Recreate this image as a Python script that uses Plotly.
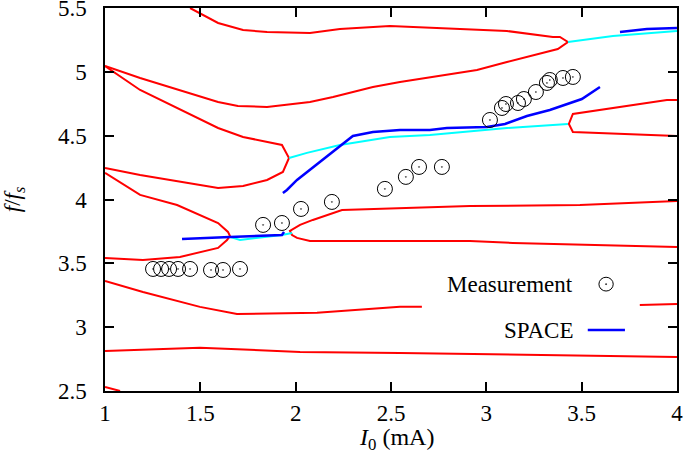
import plotly.graph_objects as go

# ---- data ----
# red mode curves
red_a_x = [1.0, 1.184, 1.593, 1.697, 1.850, 2.075, 2.196, 2.405, 2.547, 2.951, 3.108, 3.375, 3.428, 3.386, 3.349, 3.108, 2.494, 2.232, 2.075, 1.850, 1.724, 1.593, 1.446]
red_a_y = [5.046, 4.952, 4.764, 4.733, 4.725, 4.764, 4.803, 4.881, 4.921, 5.014, 5.077, 5.179, 5.234, 5.273, 5.273, 5.320, 5.359, 5.336, 5.304, 5.312, 5.328, 5.383, 5.5]

red_b_x = [1.0, 1.184, 1.593, 1.724, 1.928, 1.965, 1.933, 1.850, 1.724, 1.593, 1.184, 1.0]
red_b_y = [5.046, 4.858, 4.560, 4.490, 4.427, 4.325, 4.216, 4.153, 4.106, 4.090, 4.192, 4.247]

red_c_x = [1.0, 1.184, 1.378, 1.593, 1.645, 1.655, 1.640, 1.593, 1.393, 1.199, 1.0]
red_c_y = [4.208, 4.036, 3.957, 3.816, 3.746, 3.715, 3.683, 3.621, 3.550, 3.527, 3.542]

red_d_x = [4.0, 3.491, 2.914, 2.243, 2.090, 2.023, 1.970, 1.981, 2.007, 2.075, 2.914, 3.139, 4.0]
red_d_y = [3.989, 3.957, 3.949, 3.918, 3.840, 3.801, 3.754, 3.722, 3.699, 3.675, 3.675, 3.660, 3.628]

red_e_x = [4.0, 3.947, 3.454, 3.433, 3.454, 3.947, 4.0]
red_e_y = [4.780, 4.780, 4.670, 4.592, 4.529, 4.505, 4.498]

red_f_x = [1.0, 1.199, 1.498, 1.692, 2.112, 2.547, 2.662]
red_f_y = [3.362, 3.276, 3.159, 3.104, 3.112, 3.159, 3.159]

red_f2_x = [3.805, 4.0]
red_f2_y = [3.174, 3.182]

red_g_x = [1.0, 1.498, 2.023, 2.547, 4.0]
red_g_y = [2.814, 2.838, 2.806, 2.798, 2.767]

red_h_x = [1.0, 1.079]
red_h_y = [2.532, 2.5]

# cyan connecting curves
cyan_1_x = [1.655, 1.708, 1.928, 1.981]
cyan_1_y = [3.707, 3.683, 3.722, 3.738]
cyan_2_x = [1.965, 2.059, 2.232, 2.494, 2.704, 3.108, 3.428]
cyan_2_y = [4.325, 4.365, 4.427, 4.490, 4.505, 4.560, 4.592]
cyan_3_x = [3.428, 3.664, 4.0]
cyan_3_y = [5.234, 5.281, 5.320]

# SPACE simulation (blue)
space_1_x = [1.404, 1.509, 1.655, 1.928, 1.939]
space_1_y = [3.691, 3.699, 3.707, 3.722, 3.746]
space_2_x = [1.933, 1.954, 2.007, 2.300, 2.405, 2.547, 2.704, 2.793, 3.003, 3.098, 3.213, 3.333, 3.501, 3.596]
space_2_y = [4.051, 4.075, 4.153, 4.498, 4.529, 4.545, 4.545, 4.560, 4.568, 4.592, 4.654, 4.701, 4.787, 4.881]
space_3_x = [3.701, 3.842, 4.0]
space_3_y = [5.312, 5.336, 5.343]

# measurements
meas_x = [1.252, 1.294, 1.336, 1.383, 1.446, 1.556, 1.619, 1.708,
          1.829, 1.928, 2.028, 2.190, 2.468, 2.578, 2.647, 2.767,
          3.019, 3.082, 3.103, 3.166, 3.197, 3.260, 3.318, 3.333, 3.402, 3.454]
meas_y = [3.456, 3.456, 3.456, 3.456, 3.456, 3.448, 3.448, 3.456,
          3.801, 3.816, 3.926, 3.981, 4.083, 4.177, 4.255, 4.255,
          4.623, 4.717, 4.748, 4.756, 4.787, 4.842, 4.913, 4.936, 4.952, 4.960]

x_ticks = [1, 1.5, 2, 2.5, 3, 3.5, 4]
x_tick_text = ["1", "1.5", "2", "2.5", "3", "3.5", "4"]
y_ticks = [2.5, 3, 3.5, 4, 4.5, 5, 5.5]
y_tick_text = ["2.5", "3", "3.5", "4", "4.5", "5", "5.5"]

FONT = "Liberation Serif"
FS = 23

fig = go.Figure()

for xs, ys in [(red_a_x, red_a_y), (red_b_x, red_b_y), (red_c_x, red_c_y), (red_d_x, red_d_y),
               (red_e_x, red_e_y), (red_f_x, red_f_y), (red_f2_x, red_f2_y), (red_g_x, red_g_y),
               (red_h_x, red_h_y)]:
    fig.add_trace(go.Scatter(x=xs, y=ys, mode="lines", line=dict(color="#ff0000", width=2),
                             showlegend=False, hoverinfo="skip"))

for xs, ys in [(cyan_1_x, cyan_1_y), (cyan_2_x, cyan_2_y), (cyan_3_x, cyan_3_y)]:
    fig.add_trace(go.Scatter(x=xs, y=ys, mode="lines", line=dict(color="#00ffff", width=2),
                             showlegend=False, hoverinfo="skip"))

for xs, ys in [(space_1_x, space_1_y), (space_2_x, space_2_y), (space_3_x, space_3_y)]:
    fig.add_trace(go.Scatter(x=xs, y=ys, mode="lines", line=dict(color="#0000ff", width=2.5),
                             showlegend=False, name="SPACE"))

fig.add_trace(go.Scatter(x=meas_x, y=meas_y, mode="markers", name="Measurement",
                         marker=dict(symbol="circle-open-dot", size=15, color="black",
                                     line=dict(color="black", width=1)),
                         showlegend=False))

# manual gnuplot-style key
fig.add_annotation(x=0.822, y=0.277, xref="paper", yref="paper", text="Measurement",
                   showarrow=False, xanchor="right", yanchor="middle",
                   font=dict(family=FONT, size=FS, color="black"))
fig.add_annotation(x=0.822, y=0.157, xref="paper", yref="paper", text="SPACE",
                   showarrow=False, xanchor="right", yanchor="middle",
                   font=dict(family=FONT, size=FS, color="black"))
fig.add_shape(type="line", xref="paper", yref="paper", x0=0.844, x1=0.909, y0=0.159, y1=0.159,
              line=dict(color="#0000ff", width=2.5))
fig.add_shape(type="circle", xref="paper", yref="paper", x0=0.8635, x1=0.8885, y0=0.261, y1=0.297,
              line=dict(color="black", width=1))
fig.add_shape(type="circle", xref="paper", yref="paper", x0=0.8750, x1=0.8770, y0=0.2775, y1=0.2805,
              line=dict(color="black", width=0.5), fillcolor="black")

# x-axis title as annotation (slightly right of centre, as in the reference)
fig.add_annotation(x=0.51, y=-0.082, xref="paper", yref="paper",
                   text="<i>I</i><sub>0</sub> (mA)", showarrow=False,
                   xanchor="center", yanchor="top",
                   font=dict(family=FONT, size=FS + 1, color="black"))

axis_common = dict(showgrid=False, zeroline=False, showline=True, linecolor="black", linewidth=1.5,
                   mirror="ticks", ticks="inside", ticklen=9, tickwidth=1.5, tickcolor="black",
                   automargin=False, ticklabeloverflow="allow",
                   tickfont=dict(family=FONT, size=FS, color="black"))

fig.update_xaxes(range=[0.9999, 4.0001], tickvals=x_ticks, ticktext=x_tick_text,
                 ticklabelstandoff=1, **axis_common)
fig.update_yaxes(range=[2.4999, 5.5001], tickvals=y_ticks, ticktext=y_tick_text,
                 title=dict(text="<i>f</i>/<i>f<sub>s</sub></i>", font=dict(family=FONT, size=FS, color="black"),
                            standoff=32),
                 ticklabelstandoff=12, **axis_common)

fig.update_layout(width=685, height=462, margin=dict(l=105, r=8, t=8, b=71),
                  plot_bgcolor="white", paper_bgcolor="white", showlegend=False)

fig.write_html("out.html", config={"displayModeBar": False},
               post_script="document.body.style.margin='0';")
